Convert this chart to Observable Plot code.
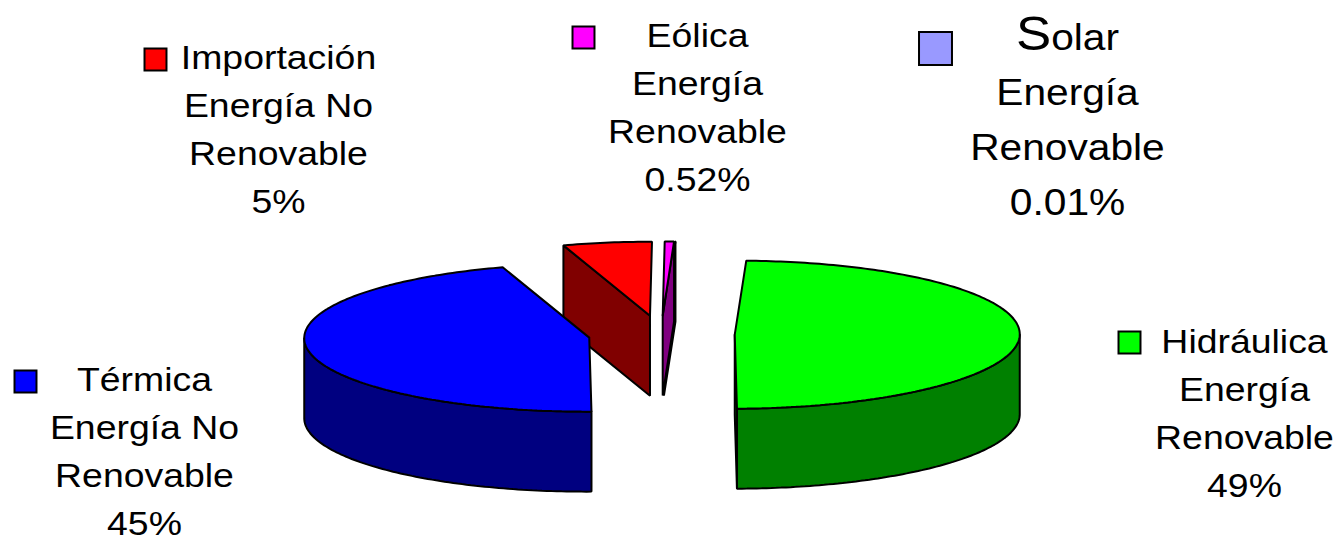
<!DOCTYPE html>
<html>
<head>
<meta charset="utf-8">
<script src="https://cdn.jsdelivr.net/npm/d3@7"></script>
<script src="https://cdn.jsdelivr.net/npm/@observablehq/plot@0.6"></script>
<style>
  html, body { margin: 0; padding: 0; background: #fff; }
  svg { display: block; }
</style>
</head>
<body>
<script>
// Electricity generation by source, in the order the slices run clockwise from 12 o'clock.
const sources = ["Eólica", "Solar", "Hidráulica", "Térmica", "Importación"];
const shares = [0.52, 0.01, 49, 45, 5];
const kinds = ["Energía\nRenovable", "Energía\nRenovable", "Energía\nRenovable", "Energía No\nRenovable", "Energía No\nRenovable"];
const topColors = ["#ff00ff", "#9999ff", "#00ff00", "#0000ff", "#ff0000"];
const sideColors = ["#800080", "#4d4d80", "#008000", "#000080", "#800000"];

// Label and legend-key placement, one entry per source.
const labelX = [697, 1067, 1244, 144, 278];
const labelY = [103, 114, 409, 447, 125];
const keyX = [583, 935, 1129, 25, 155];
const keyY = [37, 48, 342, 381, 59];
const keyRadius = [6.2, 9.3, 6.2, 6.2, 6.2];

// Geometry of the tilted pie.
const pie = {cx: 661, cy: 334, rx: 285, ry: 74, depth: 80, explode: 0.257, lean: 2};
const rad = (deg) => (deg * Math.PI) / 180;

const total = d3.sum(shares);
let running = 0;
const slices = sources.map((name, i) => {
  const start = (running / total) * 360;
  running += shares[i];
  const end = (running / total) * 360;
  const mid = rad((start + end) / 2);
  return {
    name, start, end, top: topColors[i], side: sideColors[i],
    dx: pie.explode * pie.rx * Math.sin(mid),
    dy: -pie.explode * pie.ry * Math.cos(mid)
  };
});

function rim(s, deg, drop = 0) {
  const a = rad(deg);
  return [
    pie.cx + s.dx + pie.rx * Math.sin(a) + pie.lean * Math.cos(a),
    pie.cy + s.dy - pie.ry * Math.cos(a) + drop
  ];
}
function hub(s, drop = 0) {
  return [pie.cx + s.dx, pie.cy + s.dy + drop];
}
function arc(s, a0, a1, drop = 0) {
  const n = Math.max(2, Math.ceil(Math.abs(a1 - a0)));
  return d3.range(n + 1).map((k) => rim(s, a0 + ((a1 - a0) * k) / n, drop));
}
function closed(points) {
  return [...points, points[0]];
}

// Paint back to front: outer wall, visible cut face, then the top of each slice.
function facesOf(s) {
  const faces = [];
  const w0 = Math.max(s.start, 90);
  const w1 = Math.min(s.end, 270);
  if (w1 > w0) {
    faces.push({fill: s.side, points: closed([...arc(s, w0, w1), ...arc(s, w1, w0, pie.depth)])});
  }
  for (const cut of [s.start, s.end]) {
    const facing = cut === s.start ? Math.sin(rad(cut)) < 0 : Math.sin(rad(cut)) > 0;
    if (facing) {
      faces.push({
        fill: s.side,
        points: closed([hub(s), rim(s, cut), rim(s, cut, pie.depth), hub(s, pie.depth)])
      });
    }
  }
  faces.push({fill: s.top, points: closed([hub(s), ...arc(s, s.start, s.end)])});
  return faces;
}

// Slices pulled away from the viewer go first; within a group, the later angle is painted earlier.
const faces = d3.sort(slices, (s) => (s.dy < -1 ? 0 : 1), (s) => -s.start).flatMap(facesOf);

const labels = sources.map((name, i) => ({
  text: `${name}\n${kinds[i]}\n${shares[i]}%`,
  x: labelX[i], y: labelY[i], big: name === "Solar"
}));
const keys = sources.map((name, i) => ({x: keyX[i], y: keyY[i], r: keyRadius[i] * 2, fill: topColors[i]}));

const chart = Plot.plot({
  width: 1337,
  height: 538,
  margin: 0,
  x: {domain: [0, 1337], range: [0, 1337], axis: null},
  y: {domain: [0, 538], range: [0, 538], axis: null},
  r: {type: "identity"},
  color: {type: "identity"},
  style: {fontFamily: "'Liberation Sans', Arial, sans-serif", background: "#fff"},
  marks: [
    ...faces.map((f) => Plot.line(f.points, {
      x: (p) => p[0],
      y: (p) => p[1],
      fill: f.fill,
      stroke: "#000",
      strokeWidth: 2,
      strokeLinejoin: "miter",
      curve: "linear"
    })),
    Plot.dot(keys, {x: "x", y: "y", r: "r", fill: "fill", stroke: "#000", strokeWidth: 2, symbol: "square"}),
    Plot.text(labels.filter((d) => !d.big), {
      x: "x", y: "y", text: "text", fill: "#000", fontSize: 34, lineHeight: 48 / 34, textAnchor: "middle"
    }),
    Plot.text(labels.filter((d) => d.big), {
      x: "x", y: "y", text: "text", fill: "#000", fontSize: 37, lineHeight: 55 / 37, textAnchor: "middle"
    })
  ]
});

// The type is set a little wide; the drop capital on "Solar" is larger than its line.
d3.select(chart).selectAll("text").each(function () {
  const t = this.getAttribute("transform");
  if (t) this.setAttribute("transform", `${t} scale(1.1,1)`);
});
d3.select(chart).selectAll("tspan").filter(function () { return this.textContent === "Solar"; }).each(function () {
  this.textContent = "";
  const big = document.createElementNS("http://www.w3.org/2000/svg", "tspan");
  big.setAttribute("font-size", "48");
  big.textContent = "S";
  this.append(big, "olar");
});

document.body.append(chart);
</script>
</body>
</html>
